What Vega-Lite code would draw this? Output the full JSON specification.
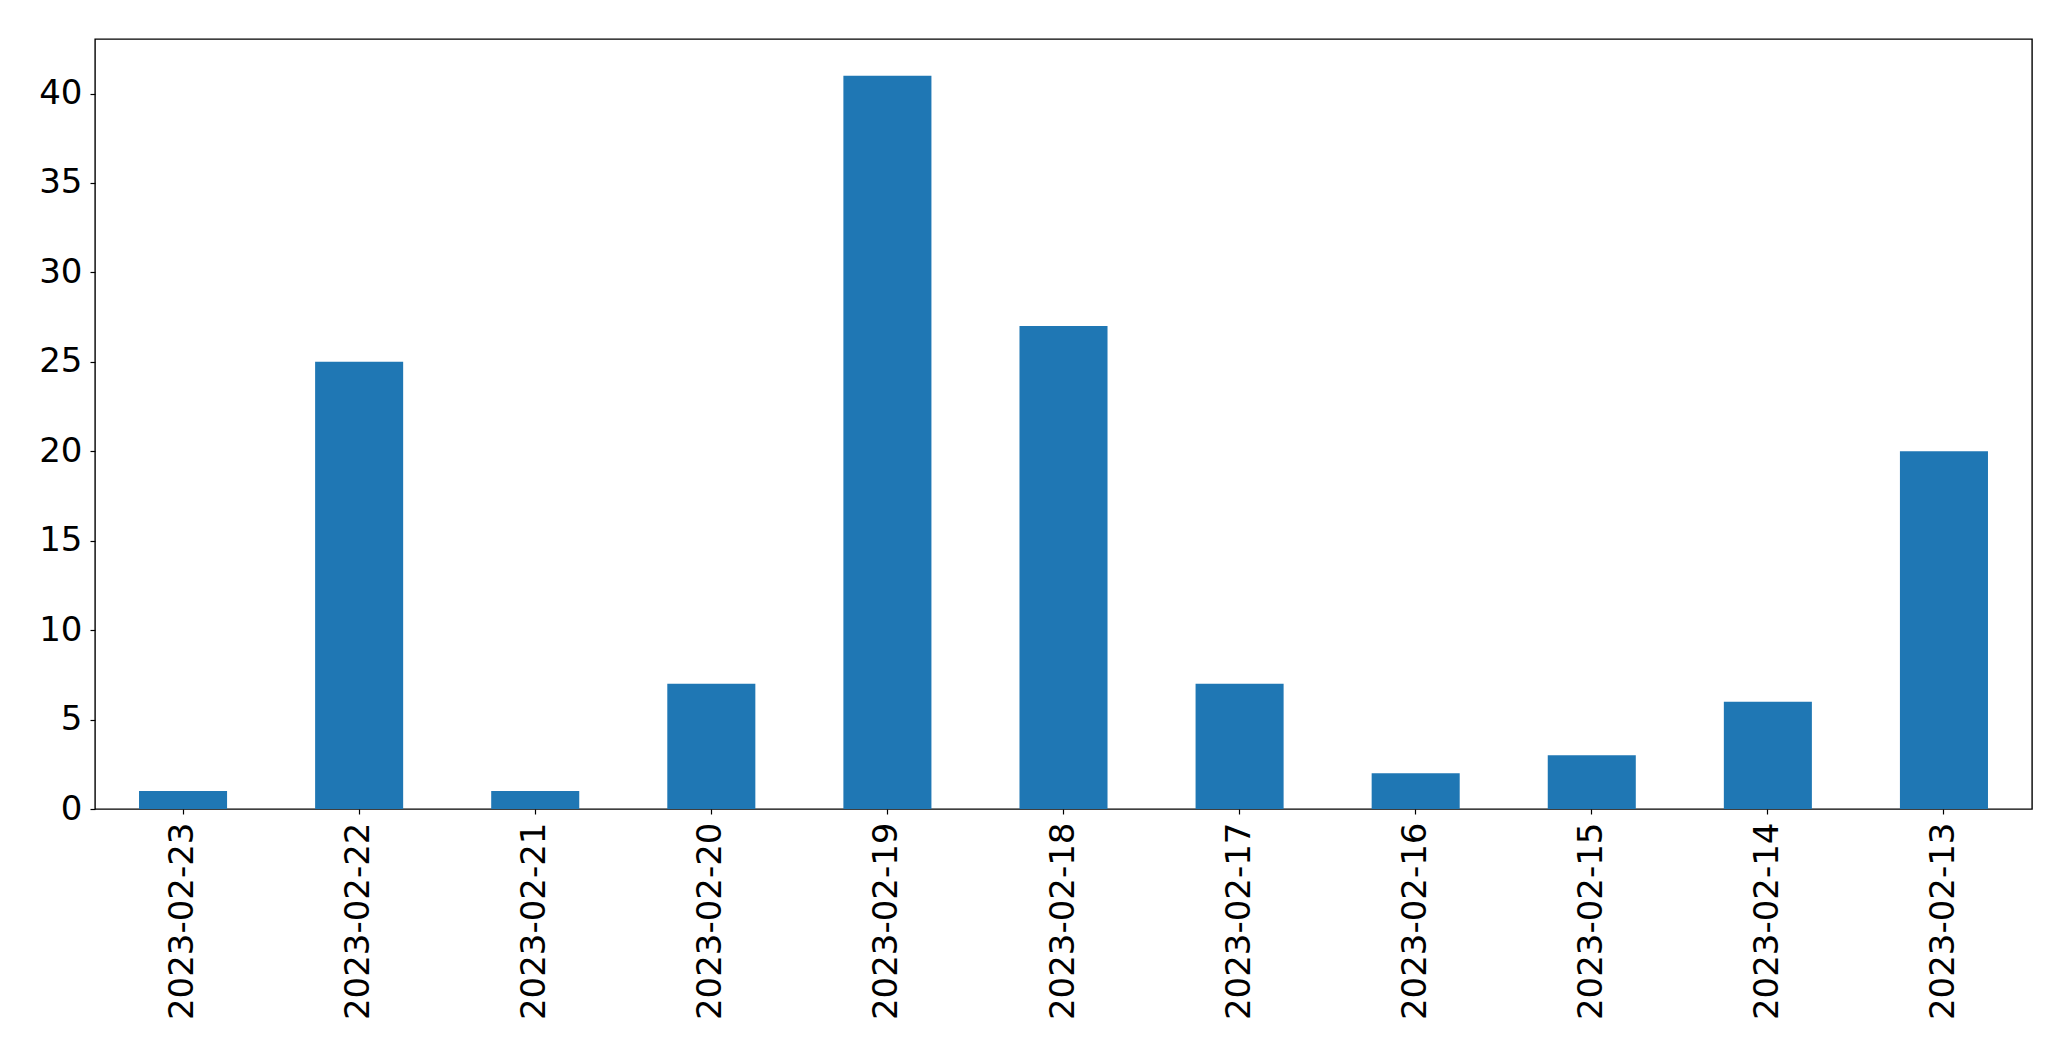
{
  "$schema": "https://vega.github.io/schema/vega-lite/v6.json",
  "width": 1937,
  "height": 770,
  "autosize": {"type": "none"},
  "padding": {"left": 95, "top": 39, "right": 39, "bottom": 252},
  "background": "white",
  "data": {
    "values": [
      {"date": "2023-02-23", "count": 1},
      {"date": "2023-02-22", "count": 25},
      {"date": "2023-02-21", "count": 1},
      {"date": "2023-02-20", "count": 7},
      {"date": "2023-02-19", "count": 41},
      {"date": "2023-02-18", "count": 27},
      {"date": "2023-02-17", "count": 7},
      {"date": "2023-02-16", "count": 2},
      {"date": "2023-02-15", "count": 3},
      {"date": "2023-02-14", "count": 6},
      {"date": "2023-02-13", "count": 20}
    ]
  },
  "mark": {"type": "bar", "color": "#1f77b4"},
  "encoding": {
    "x": {
      "field": "date",
      "type": "nominal",
      "sort": null,
      "scale": {"paddingInner": 0.5, "paddingOuter": 0.25},
      "axis": {
        "title": null,
        "labelAngle": -90,
        "labelFont": "DejaVu Sans",
        "labelFontSize": 34,
        "labelColor": "black",
        "labelPadding": 8,
        "labelLimit": 0,
        "tickColor": "black",
        "tickSize": 5,
        "tickWidth": 1.2,
        "domain": false,
        "grid": false
      }
    },
    "y": {
      "field": "count",
      "type": "quantitative",
      "scale": {"domain": [0, 43.05], "nice": false, "zero": true},
      "axis": {
        "title": null,
        "values": [0, 5, 10, 15, 20, 25, 30, 35, 40],
        "labelFont": "DejaVu Sans",
        "labelFontSize": 34,
        "labelColor": "black",
        "labelPadding": 8,
        "tickColor": "black",
        "tickSize": 5,
        "tickWidth": 1.2,
        "domain": false,
        "grid": false
      }
    }
  },
  "config": {
    "view": {"stroke": "black", "strokeWidth": 1.4}
  }
}
